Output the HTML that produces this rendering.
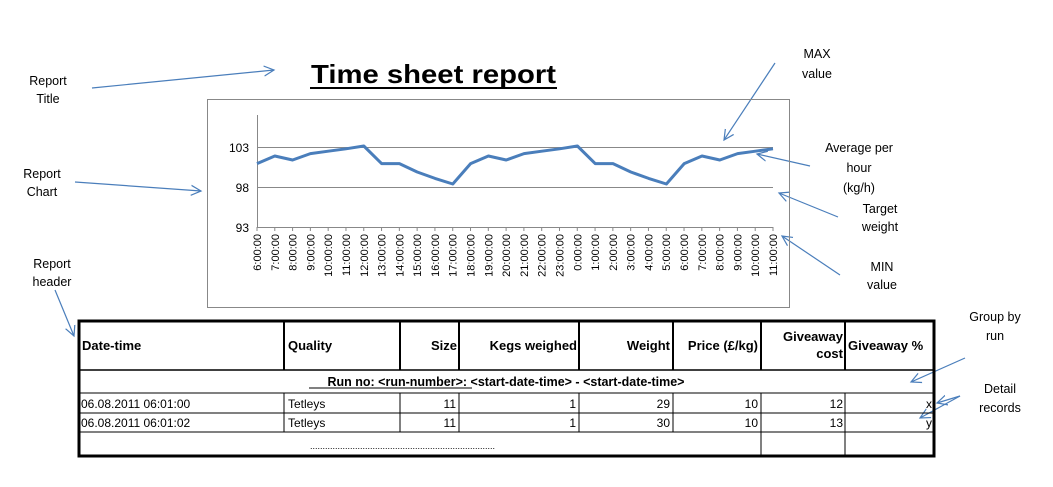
<!DOCTYPE html>
<html><head><meta charset="utf-8"><style>
body{margin:0;background:#fff;width:1053px;height:487px;overflow:hidden}
svg{display:block}
text{font-family:"Liberation Sans",sans-serif;fill:#000}
</style></head><body>
<svg width="1053" height="487" viewBox="0 0 1053 487">
<defs><marker id="ah" markerWidth="12" markerHeight="12" refX="10" refY="6" orient="auto" markerUnits="userSpaceOnUse"><path d="M0,1 L10,6 L0,11" fill="none" stroke="#4a7ebb" stroke-width="1.2"/></marker></defs>
<text x="311" y="83" font-size="26" font-weight="bold" textLength="245" lengthAdjust="spacingAndGlyphs">Time sheet report</text>
<line x1="310" y1="88" x2="557" y2="88" stroke="#000" stroke-width="2"/>
<g font-size="12.5" text-anchor="middle">
<text x="48" y="85">Report</text><text x="48" y="103">Title</text>
<text x="42" y="178">Report</text><text x="42" y="196">Chart</text>
<text x="52" y="268">Report</text><text x="52" y="286">header</text>
<text x="817" y="58">MAX</text><text x="817" y="78">value</text>
<text x="859" y="152">Average per</text><text x="859" y="172">hour</text><text x="859" y="192">(kg/h)</text>
<text x="880" y="213">Target</text><text x="880" y="231">weight</text>
<text x="882" y="271">MIN</text><text x="882" y="289">value</text>
<text x="995" y="321">Group by</text><text x="995" y="340">run</text>
<text x="1000" y="393">Detail</text><text x="1000" y="412">records</text>
</g>
<g stroke="#4a7ebb" stroke-width="1.2" fill="none" marker-end="url(#ah)">
<line x1="92" y1="88" x2="274" y2="70"/>
<line x1="75" y1="182" x2="201" y2="191"/>
<line x1="55" y1="290" x2="74" y2="336"/>
<line x1="775" y1="63" x2="724" y2="140"/>
<line x1="810" y1="166" x2="757" y2="154"/>
<line x1="838" y1="217" x2="779" y2="193"/>
<line x1="840" y1="275" x2="782" y2="236"/>
<line x1="965" y1="358" x2="911" y2="382"/>
<line x1="960" y1="396" x2="920" y2="418"/>
<line x1="960" y1="396" x2="937" y2="403"/>
</g>
<rect x="207.5" y="99.5" width="582" height="208" fill="none" stroke="#888"/>
<line x1="257.5" y1="115" x2="257.5" y2="227" stroke="#888"/>
<line x1="257" y1="227.5" x2="773" y2="227.5" stroke="#888"/>
<line x1="257" y1="147.5" x2="773" y2="147.5" stroke="#888"/>
<line x1="257" y1="187.5" x2="773" y2="187.5" stroke="#888"/>
<g font-size="12" text-anchor="end"><text x="249" y="152">103</text><text x="249" y="192">98</text><text x="249" y="232">93</text></g>
<g id="ticks" stroke="#888"></g>
<polyline fill="none" stroke="#4a7ebb" stroke-width="3" stroke-linejoin="round" points="257,163.6 274.8,156 292.6,160 310.4,153.6 328.2,151.2 346,148.8 363.8,146 381.6,163.6 399.4,163.6 417.2,172 435,178.4 452.8,184 470.6,163.6 488.4,156 506.2,160 524,153.6 541.8,151.2 559.6,148.8 577.4,146 595.2,163.6 613,163.6 630.8,172 648.6,178.4 666.4,184 684.2,163.6 702,156 719.8,160 737.6,153.6 755.4,151.2 773,148.8"/>
<g font-size="11" id="xl"></g>
<g stroke="#000" fill="none">
<rect x="79" y="321" width="855" height="135" stroke-width="3"/>
<line x1="79" y1="370" x2="934" y2="370" stroke-width="1.5"/>
<line x1="79" y1="393" x2="934" y2="393"/>
<line x1="79" y1="413" x2="934" y2="413"/>
<line x1="79" y1="432" x2="934" y2="432"/>
<g stroke-width="2"><line x1="284" y1="321" x2="284" y2="370"/><line x1="400" y1="321" x2="400" y2="370"/><line x1="459" y1="321" x2="459" y2="370"/><line x1="579" y1="321" x2="579" y2="370"/><line x1="673" y1="321" x2="673" y2="370"/><line x1="761" y1="321" x2="761" y2="370"/><line x1="845" y1="321" x2="845" y2="370"/></g>
<g><line x1="284" y1="393" x2="284" y2="432"/><line x1="400" y1="393" x2="400" y2="432"/><line x1="459" y1="393" x2="459" y2="432"/><line x1="579" y1="393" x2="579" y2="432"/><line x1="673" y1="393" x2="673" y2="432"/><line x1="761" y1="393" x2="761" y2="456"/><line x1="845" y1="393" x2="845" y2="456"/></g>
</g>
<g font-size="13" font-weight="bold">
<text x="82" y="350">Date-time</text><text x="288" y="350">Quality</text>
<text x="457" y="350" text-anchor="end">Size</text><text x="577" y="350" text-anchor="end">Kegs weighed</text>
<text x="670" y="350" text-anchor="end">Weight</text><text x="758" y="350" text-anchor="end">Price (£/kg)</text>
<text x="843" y="341" text-anchor="end">Giveaway</text><text x="843" y="358" text-anchor="end">cost</text>
<text x="848" y="350">Giveaway %</text>
<text x="506" y="386" text-anchor="middle" font-size="12.5">Run no: &lt;run-number&gt;: &lt;start-date-time&gt; - &lt;start-date-time&gt;</text>
</g>
<line x1="309" y1="388" x2="472" y2="388" stroke="#000"/>
<g font-size="12">
<text x="81" y="408">06.08.2011 06:01:00</text><text x="288" y="408">Tetleys</text>
<text x="456" y="408" text-anchor="end">11</text><text x="576" y="408" text-anchor="end">1</text><text x="670" y="408" text-anchor="end">29</text><text x="758" y="408" text-anchor="end">10</text><text x="843" y="408" text-anchor="end">12</text><text x="932" y="408" text-anchor="end">x</text>
<text x="81" y="427">06.08.2011 06:01:02</text><text x="288" y="427">Tetleys</text>
<text x="456" y="427" text-anchor="end">11</text><text x="576" y="427" text-anchor="end">1</text><text x="670" y="427" text-anchor="end">30</text><text x="758" y="427" text-anchor="end">10</text><text x="843" y="427" text-anchor="end">13</text><text x="932" y="427" text-anchor="end">y</text>
<text x="310" y="449" font-size="9">..........................................................................</text>
</g>
</svg>
<script>
var labs=[];for(var h=6;h<24;h++)labs.push(h+':00:00');for(var h=0;h<12;h++)labs.push(h+':00:00');
var t=document.getElementById('ticks'),xl=document.getElementById('xl'),ns='http://www.w3.org/2000/svg';
for(var i=0;i<30;i++){var x=257+i*(516/29);
var l=document.createElementNS(ns,'line');l.setAttribute('x1',x);l.setAttribute('x2',x);l.setAttribute('y1',227);l.setAttribute('y2',231);t.appendChild(l);
var tx=document.createElementNS(ns,'text');tx.setAttribute('transform','translate('+(x+4)+',234) rotate(-90)');tx.setAttribute('text-anchor','end');tx.textContent=labs[i];xl.appendChild(tx);}
</script>
</body></html>
